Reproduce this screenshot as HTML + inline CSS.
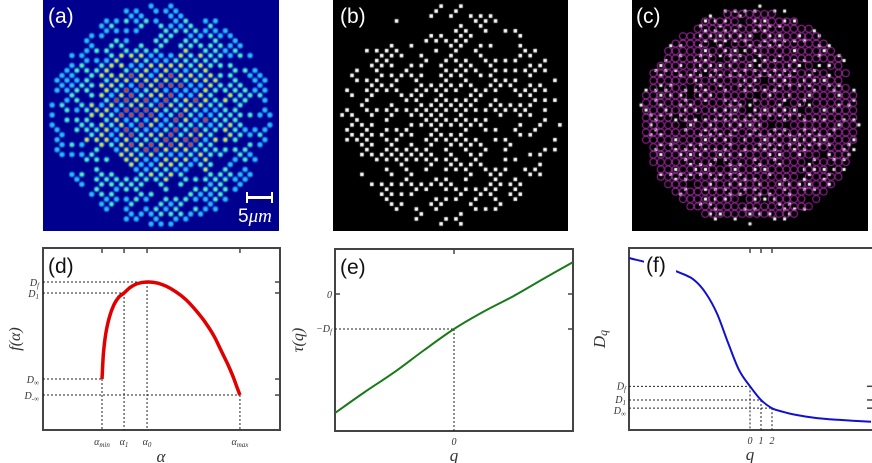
<!DOCTYPE html>
<html><head><meta charset="utf-8"><style>
html,body{margin:0;padding:0;background:#fff;width:872px;height:463px;overflow:hidden;position:relative}
canvas{position:absolute;top:0}
svg{position:absolute;left:0;top:0}
.lbl{position:absolute;font-family:"Liberation Sans",sans-serif;font-size:21px;color:#fff}
</style></head><body>
<canvas id="ca" width="236" height="231" style="left:43px"></canvas>
<canvas id="cb" width="235" height="231" style="left:333px"></canvas>
<canvas id="cc" width="236" height="231" style="left:632px"></canvas>
<div class="lbl" style="left:48px;top:5px">(a)</div>
<div class="lbl" style="left:340px;top:5px">(b)</div>
<div class="lbl" style="left:636px;top:5px">(c)</div>
<div style="position:absolute;left:246px;top:196px;width:26px;height:3px;background:#fff"></div>
<div style="position:absolute;left:246px;top:192px;width:2px;height:11px;background:#fff"></div>
<div style="position:absolute;left:271px;top:192px;width:2px;height:11px;background:#fff"></div>
<div class="lbl" style="left:238px;top:206px;font-size:19px">5<i style="font-family:'Liberation Serif',serif">μm</i></div>
<svg id="s" width="872" height="463"></svg>
<script>
// ---- panel (d) data ----
const dAlpha=[0.249,0.255,0.265,0.28,0.30,0.32,0.342,0.37,0.40,0.439,0.48,0.52,0.56,0.60,0.64,0.68,0.72,0.75,0.78,0.80,0.82,0.831];
const dF=[0.28,0.42,0.53,0.62,0.69,0.73,0.753,0.785,0.805,0.813,0.808,0.79,0.76,0.72,0.665,0.60,0.52,0.44,0.36,0.30,0.23,0.192];
const dYTicks=[0.813,0.753,0.28,0.192];
const dYLabels=["D_f","D_1","D_∞","D_-∞"];
const dXTicks=[0.249,0.342,0.439,0.831];
const dXLabels=["α_min","α_1","α_0","α_max"];
// ---- panel (e) data ----
const eQ=[-10,-7.5,-5,-2.5,0,2.5,5,7.5,10];
const eTau=[-3.4,-2.8,-2.23,-1.6,-1.0,-0.5,-0.06,0.43,0.91];
// ---- panel (f) data ----
const fQ=[-11,-10,-8,-6,-5,-4,-3,-2,-1,0,1,2,3,4,6,8,11];
const fD=[0.945,0.93,0.9,0.855,0.82,0.75,0.64,0.48,0.33,0.24,0.165,0.12,0.10,0.085,0.066,0.056,0.045];
const fYTicks=[0.24,0.165,0.12];
const fYLabels=["D_f","D_1","D_∞"];
const fXTicks=[0,1,2];

const NS="http://www.w3.org/2000/svg",S=document.getElementById('s');
function el(t,a,txt){const e=document.createElementNS(NS,t);for(const k in a)e.setAttribute(k,a[k]);if(txt!==undefined)e.textContent=txt;S.appendChild(e);return e;}
function mathText(x,y,lab,anchor,size,name){
  const p=lab.split('_');const t=el('text',{x:x,y:y,'text-anchor':anchor,'font-family':'Liberation Serif,serif','font-style':'italic','font-size':size,fill:'#333'});
  
  const a=document.createElementNS(NS,'tspan');a.textContent=p[0];t.appendChild(a);
  if(p[1]){const b=document.createElementNS(NS,'tspan');b.setAttribute('font-size',size*0.7);b.setAttribute('dy',2);b.textContent=p[1];t.appendChild(b);}
  return t;
}
function frame(L,T,R,B,name){const r=el('rect',{x:L,y:T,width:R-L,height:B-T,fill:'none',stroke:'#444','stroke-width':2});}
function path(pts,col,w,name){
  let d='M'+pts[0][0].toFixed(1)+','+pts[0][1].toFixed(1);
  for(let i=0;i<pts.length-1;i++){const p0=pts[Math.max(0,i-1)],p1=pts[i],p2=pts[i+1],p3=pts[Math.min(pts.length-1,i+2)];
    const c1=[p1[0]+(p2[0]-p0[0])/6,p1[1]+(p2[1]-p0[1])/6],c2=[p2[0]-(p3[0]-p1[0])/6,p2[1]-(p3[1]-p1[1])/6];
    d+='C'+c1.map(v=>v.toFixed(1)).join(',')+' '+c2.map(v=>v.toFixed(1)).join(',')+' '+p2.map(v=>v.toFixed(1)).join(',');}
  const e=el('path',{d:d,fill:'none',stroke:col,'stroke-width':w,'stroke-linejoin':'round'});}
function dash(x1,y1,x2,y2){const e=el('line',{x1:x1,y1:y1,x2:x2,y2:y2,stroke:'#222','stroke-width':1,'stroke-dasharray':'2,2'});}
function tick(x1,y1,x2,y2){const e=el('line',{x1:x1,y1:y1,x2:x2,y2:y2,stroke:'#444','stroke-width':1.5});}
function plabel(x,y,t,name){const e=el('text',{x:x,y:y,'font-family':'Liberation Sans,sans-serif','font-size':21,fill:'#111'},t);}

// panel d
{const L=43,R=280,T=248,B=430;const X=a=>L+a*(R-L),Y=f=>B-f*(B-T);
 frame(L,T,R,B,'panel-d-frame');
 dYTicks.forEach((v,i)=>{dash(L,Y(v),i<2?X(dXTicks[i===0?2:1]):X(dXTicks[i===2?0:3]),Y(v));tick(R,Y(v),R-5,Y(v));mathText(L-4,Y(v)+4,dYLabels[i],'end',10,'y-tick-label');});
 dXTicks.forEach((v,i)=>{const yy=[dF[0],0.753,0.813,dF[dF.length-1]][i];dash(X(v),Y(yy),X(v),B);tick(X(v),T,X(v),T+5);mathText(X(v),B+15,dXLabels[i],'middle',10,'x-tick-label');});
 path(dAlpha.map((a,i)=>[X(a),Y(dF[i])]),'#e00000',3.5,'f-alpha-curve');
 plabel(48,273,'(d)','panel-d-label');
 mathText(L+118,B+32,'α','middle',17,'x-axis-title');
 const t=el('text',{x:0,y:0,transform:`translate(20,${(T+B)/2}) rotate(-90)`,'text-anchor':'middle','font-family':'Liberation Serif,serif','font-style':'italic','font-size':16,fill:'#333'},'f(α)');}
// panel e
{const L=335,R=573,T=249,B=431;const X=q=>454+q*11.9,Y=v=>294-v*35;
 frame(L,T,R,B,'panel-e-frame');
 dash(L,Y(-1),X(0),Y(-1));dash(X(0),Y(-1),X(0),B);
 tick(L,Y(0),L+5,Y(0));tick(R,Y(0),R-5,Y(0));tick(R,Y(-1),R-5,Y(-1));tick(X(0),T,X(0),T+5);
 mathText(L-3,Y(0)+4,'0','end',10,'y-tick-label');mathText(L-3,Y(-1)+3,'−D_f','end',10,'y-tick-label');
 mathText(X(0),B+14,'0','middle',10,'x-tick-label');
 path(eQ.map((q,i)=>[X(q),Y(eTau[i])]),'#1a7a1a',2,'tau-curve');
 plabel(340,274,'(e)','panel-e-label');
 mathText(454,B+30,'q','middle',17,'x-axis-title');
 const t=el('text',{x:0,y:0,transform:`translate(303,${(T+B)/2}) rotate(-90)`,'text-anchor':'middle','font-family':'Liberation Serif,serif','font-style':'italic','font-size':16,fill:'#333'},'τ(q)');}
// panel f
{const L=629,R=873,T=248,B=430;const X=q=>750+q*11,Y=v=>B-v*182;
 frame(L,T,R,B,'panel-f-frame');
 fYTicks.forEach((v,i)=>{dash(L,Y(v),X(fXTicks[i]),Y(v));dash(X(fXTicks[i]),Y(v),X(fXTicks[i]),B);tick(R-1,Y(v),R-6,Y(v));tick(X(fXTicks[i]),T,X(fXTicks[i]),T+5);mathText(L-3,Y(v)+(i===2?6:3),fYLabels[i],'end',10,'y-tick-label');mathText(X(fXTicks[i]),B+14,String(fXTicks[i]),'middle',10,'x-tick-label');});
 path(fQ.map((q,i)=>[X(q),Y(fD[i])]),'#1010d0',2,'dq-curve');
 const bg=el('rect',{x:644,y:252,width:32,height:24,fill:'#fff'});
 plabel(646,272,'(f)','panel-f-label');
 mathText(750,B+30,'q','middle',17,'x-axis-title');
 const t=mathText(0,0,'D_q','middle',17,'y-axis-title');t.setAttribute('transform',`translate(605,${(T+B)/2}) rotate(-90)`);}

// images (texture, not data)
let seed=7;function rnd(){seed=(seed*16807)%2147483647;return seed/2147483647;}
function lattice(cb){const cx=118,cy=115,R=110,s=7;for(let i=-24;i<=24;i++)for(let j=-24;j<=24;j++){const x=cx+(i+j)*s*0.707,y=cy+(i-j)*s*0.707;const r=Math.hypot(x-cx,y-cy);if(r<R)cb(x,y,r/R);}}
{const c=document.getElementById('ca').getContext('2d');c.fillStyle='#00008f';c.fillRect(0,0,236,231);
 lattice((x,y,r)=>{const v=rnd();if(r>0.55&&v<0.35)return;const h=Math.max(0,1-r*0.9)*v+0.2;const col=h>0.75?'#e04020':h>0.55?'#e8e020':h>0.35?'#60f0a0':'#30c0f0';
  c.fillStyle='#1070e8';c.beginPath();c.arc(x,y,3.0,0,7);c.fill();c.fillStyle=col;c.beginPath();c.arc(x,y,1.9,0,7);c.fill();});}
{const c=document.getElementById('cb').getContext('2d');c.fillStyle='#000';c.fillRect(0,0,235,231);c.fillStyle='#fff';
 lattice((x,y,r)=>{if(rnd()<0.2+r*0.45)return;c.fillRect(x-1.8,y-1.8,3.6,3.6);});}
{const c=document.getElementById('cc').getContext('2d');c.fillStyle='#000';c.fillRect(0,0,236,231);
 lattice((x,y,r)=>{const v=rnd();c.fillStyle='#fff';if(v>0.25+r*0.35)c.fillRect(x-1.5,y-1.5,3,3);});
 c.strokeStyle='#b030b0';c.lineWidth=1;for(let i=0;i<29;i++)for(let j=0;j<28;j++){const x=14+i*7.4,y=14+j*7.4;if(Math.hypot(x-118,y-118)<107&&rnd()>0.05){c.beginPath();c.arc(x,y,3.6,0,7);c.stroke();}}}
</script>
</body></html>
